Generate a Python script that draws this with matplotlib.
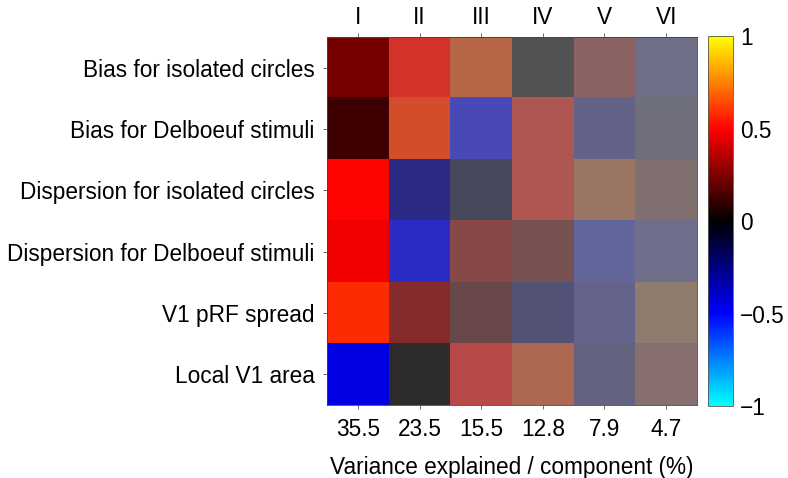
import matplotlib
matplotlib.use("Agg")
import matplotlib.pyplot as plt
from matplotlib.colors import LinearSegmentedColormap
import numpy as np

plt.rcParams['font.family'] = ['Liberation Sans', 'DejaVu Sans']

measures = ["Bias for isolated circles", "Bias for Delboeuf stimuli",
            "Dispersion for isolated circles", "Dispersion for Delboeuf stimuli",
            "V1 pRF spread", "Local V1 area"]
components = ["I", "II", "III", "IV", "V", "VI"]
variance = [35.5, 23.5, 15.5, 12.8, 7.9, 4.7]

# loadings, one row per measure, one column per component
loadings = np.array([
    [0.23, 0.52, 0.64, 0.00, 0.36, -0.38],
    [0.12, 0.60, -0.50, 0.52, -0.33, -0.20],
    [0.50, -0.27, -0.09, 0.52, 0.65, 0.26],
    [0.47, -0.46, 0.29, 0.21, -0.52, -0.44],
    [0.58, 0.27, 0.145, -0.21, -0.36, 0.70],
    [-0.44, 0.00, 0.50, 0.62, -0.25, 0.38],
])

# cyan - blue - black - red - yellow
cmap = LinearSegmentedColormap.from_list(
    "coldhot", [(0, 1, 1), (0, 0, 1), (0, 0, 0), (1, 0, 0), (1, 1, 0)])

# saturation follows the share of variance explained
alpha = np.tile(np.array(variance) / max(variance), (len(measures), 1))

fs = 16.3

fig = plt.figure(figsize=(7.88, 4.78), dpi=100)
ax = fig.add_axes([0.415, 0.1527, 0.4695, 0.770])
cax = fig.add_axes([0.8985, 0.1506, 0.0317, 0.774])

ax.set_facecolor((0.5, 0.5, 0.5))
im = ax.imshow(loadings, cmap=cmap, vmin=-1, vmax=1, alpha=alpha,
               aspect='auto', interpolation='nearest')

ax.set_yticks(range(len(measures)), labels=measures, fontsize=fs)
ax.set_xticks(range(len(variance)), labels=[f"{v}" for v in variance], fontsize=fs)
ax.set_xlabel("Variance explained / component (%)", fontsize=fs, labelpad=11)
ax.tick_params(length=3, width=0.6, pad=6, color='#555555')

top = ax.secondary_xaxis('top')
top.set_xticks(range(len(components)), labels=components, fontsize=fs)
top.tick_params(length=3, width=0.6, pad=3, color='#555555')

for s in list(ax.spines.values()) + list(top.spines.values()):
    s.set_linewidth(0.6)
    s.set_color('#444444')

cb = fig.colorbar(im, cax=cax)
cb.solids.set_alpha(1)
cb.set_ticks([-1, -0.5, 0, 0.5, 1], labels=["\u22121", "\u22120.5", "0", "0.5", "1"])
cb.ax.tick_params(length=0, labelsize=fs, pad=5)
cb.outline.set_linewidth(0.6)
cb.outline.set_edgecolor('#555555')

fig.savefig("out.png", dpi=100)
